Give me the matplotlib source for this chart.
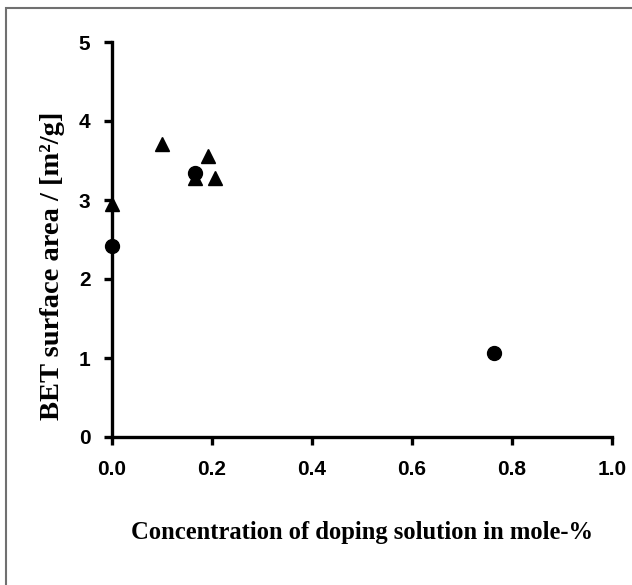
import matplotlib
matplotlib.use('Agg')
import matplotlib.pyplot as plt
from matplotlib.patches import Rectangle

# BET surface area vs doping concentration
tri_x = [0.0, 0.10, 0.192, 0.206, 0.166]
tri_y = [2.95, 3.71, 3.56, 3.28, 3.28]
circ_x = [0.0, 0.166, 0.764]
circ_y = [2.42, 3.34, 1.06]

x_ticks = [0.0, 0.2, 0.4, 0.6, 0.8, 1.0]
y_ticks = [0, 1, 2, 3, 4, 5]

fig = plt.figure(figsize=(6.32, 5.85), dpi=100)
fig.patch.set_facecolor('white')

# gray frame around the chart
fig.patches.append(Rectangle((6 / 632, -0.05), 1.2, 1 - 8 / 585 + 0.05,
                             transform=fig.transFigure, fill=False,
                             edgecolor='#707070', linewidth=1.5))

ax = fig.add_axes([112 / 632, 1 - 437 / 585, 500 / 632, 395 / 585])

ax.plot(circ_x, circ_y, linestyle='none', marker='o', markersize=10,
        color='black', clip_on=False, zorder=5)
ax.plot(tri_x, tri_y, linestyle='none', marker='^', markersize=10,
        color='black', clip_on=False, zorder=6)

ax.set_xlim(0, 1.0)
ax.set_ylim(0, 5)
ax.set_xticks(x_ticks)
ax.set_xticklabels([f'{v:.1f}' for v in x_ticks])
ax.set_yticks(y_ticks)

for side in ['top', 'right']:
    ax.spines[side].set_visible(False)
for side in ['left', 'bottom']:
    ax.spines[side].set_linewidth(2.4)

ax.tick_params(axis='x', direction='out', length=5.5, width=2.4,
               labelsize=15, pad=11)
ax.tick_params(axis='y', direction='out', length=5.5, width=2.4,
               labelsize=15, pad=10)
for lbl in ax.get_xticklabels() + ax.get_yticklabels():
    lbl.set_fontfamily('Liberation Sans')
    lbl.set_fontweight('bold')

ax.set_xlabel('Concentration of doping solution in mole-%',
              fontfamily='Liberation Serif', fontweight='bold', fontsize=17.7,
              labelpad=30)
ax.set_ylabel('BET surface area / [m\u00b2/g]',
              fontfamily='Liberation Serif', fontweight='bold', fontsize=20.5)
ax.yaxis.set_label_coords(-0.094, 0.433)

plt.savefig('out.png', dpi=100)
